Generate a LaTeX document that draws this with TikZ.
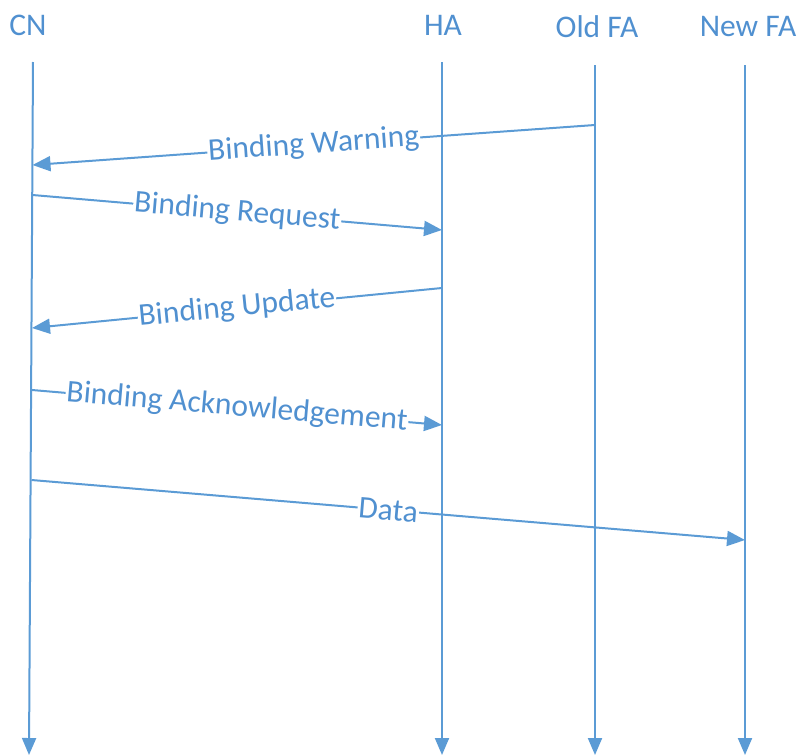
\documentclass[tikz,border=0pt]{standalone}
\usepackage{fontspec}
\setmainfont{Carlito}
\usetikzlibrary{arrows.meta}
\definecolor{seqblue}{HTML}{5B9BD5}
\definecolor{seqtext}{HTML}{5090D0}
\begin{document}
\begin{tikzpicture}[x=1pt,y=-1pt,
  head/.style={text=seqtext,font=\fontsize{31.5}{37}\selectfont,inner sep=0pt},
  lifeline/.style={draw=seqblue,line width=2pt,-{Triangle[length=17pt,width=14pt]}},
  msg/.style={draw=seqblue,line width=2pt,-{Triangle[length=18pt,width=15pt]}},
  msglabel/.style={sloped,fill=white,text=seqtext,inner sep=1pt,
    font=\fontsize{31.5}{37}\selectfont}]
\useasboundingbox (0,0) rectangle (800,755);

% participants
\node[head] (cn)    at (28,25)  {CN};
\node[head] (ha)    at (443,25) {HA};
\node[head] (oldfa) at (597,27) {Old FA};
\node[head] (newfa) at (748,27) {New FA};

% lifeline ends
\coordinate (cnT)  at (33,62);   \coordinate (cnB)  at (29,755);
\coordinate (haT)  at (442,62);  \coordinate (haB)  at (442,755);
\coordinate (ofT)  at (595,65);  \coordinate (ofB)  at (595,755);
\coordinate (nfT)  at (745,65);  \coordinate (nfB)  at (745,755);

\draw[lifeline] (cnT) -- (cnB);
\draw[lifeline] (haT) -- (haB);
\draw[lifeline] (ofT) -- (ofB);
\draw[lifeline] (nfT) -- (nfB);

% message end points on the lifelines
\coordinate (w1) at (595,125); \coordinate (w2) at (32.5,165);
\coordinate (r1) at (32.5,195); \coordinate (r2) at (442,230);
\coordinate (u1) at (442,288); \coordinate (u2) at (32,328);
\coordinate (a1) at (32,390);  \coordinate (a2) at (442,425);
\coordinate (d1) at (31.5,480); \coordinate (d2) at (745,540);

% messages
\draw[msg] (w1) -- node[msglabel] {Binding Warning} (w2);
\draw[msg] (r1) -- node[msglabel] {Binding Request} (r2);
\draw[msg] (u1) -- node[msglabel] {Binding Update} (u2);
\draw[msg] (a1) -- node[msglabel] {Binding Acknowledgement} (a2);
\draw[msg] (d1) -- node[msglabel] {Data} (d2);
\end{tikzpicture}
\end{document}
